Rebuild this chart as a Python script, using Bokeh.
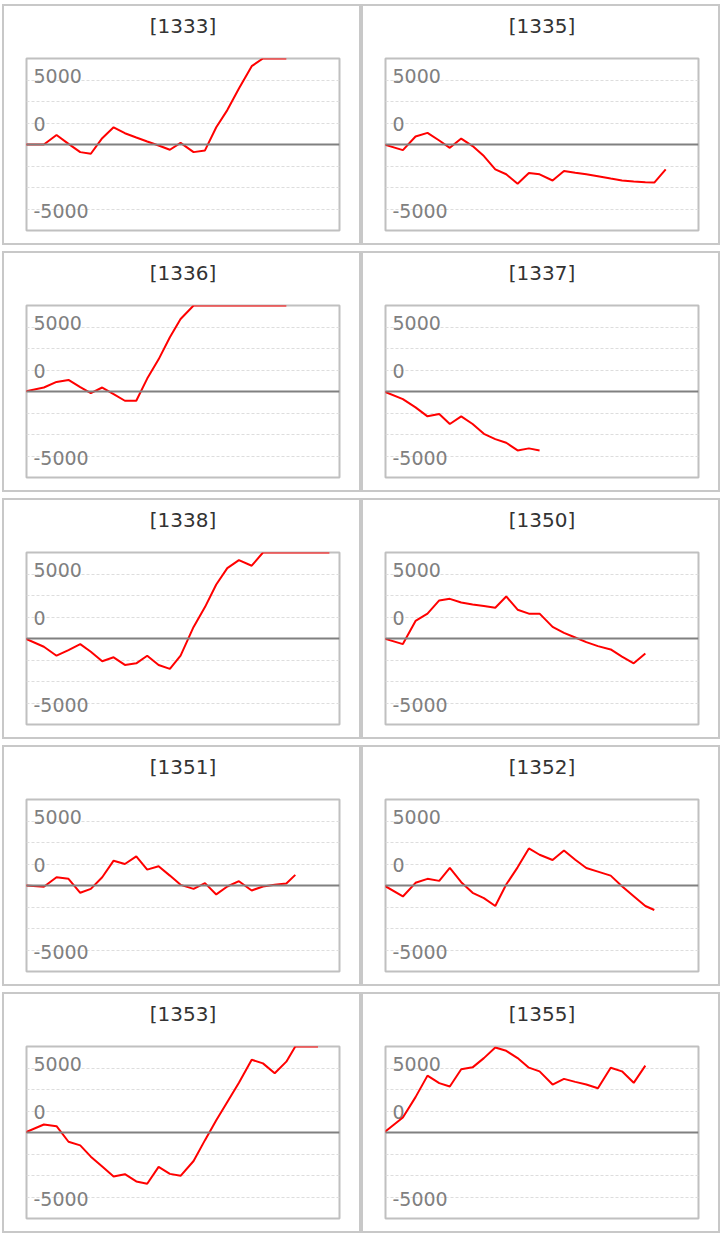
from bokeh.plotting import figure
from bokeh.layouts import column, row
from bokeh.models import Range1d, FixedTicker, Span, Title
from bokeh.core.properties import value
from bokeh.embed import file_html
from bokeh.resources import INLINE

# shared time positions (step units)
XS = [-0.12, 1.51, 2.61, 3.65, 4.67, 5.59, 6.58, 7.57, 8.55, 9.54, 10.49, 11.48,
      12.46, 13.39, 14.52, 15.51, 16.49, 17.45, 18.46, 19.57, 20.55, 21.57, 22.58,
      23.36, 24.35, 25.33, 26.32]

codes = ["1333", "1335", "1336", "1337", "1338", "1350", "1351", "1352", "1353", "1355"]

s1333 = [0, 0, 890, 60, -710, -860, 590, 1600, 1050, 650, 280, -90, -490, 150, -710,
         -550, 1600, 3200, 5200, 7290, 8000, 8000, 8000]
s1335 = [0, -520, 740, 1080, 370, -310, 550, -150, -1080, -2310, -2770, -3660, -2650,
         -2770, -3350, -2460, -2620, -2770, -2950, -3170, -3350, -3450, -3510, -3540, -2310]
s1336 = [0, 370, 890, 1080, 400, -150, 370, -250, -860, -860, 1200, 2990, 5050, 6740,
         8000, 8000, 8000, 8000, 8000, 8000, 8000, 8000, 8000]
s1337 = [0, -710, -1480, -2310, -2090, -3020, -2310, -3020, -3940, -4430, -4770,
         -5480, -5290, -5480]
s1338 = [0, -770, -1600, -1080, -520, -1230, -2120, -1750, -2460, -2310, -1600, -2460,
         -2830, -1600, 1080, 2920, 5020, 6550, 7290, 6770, 8000, 8000, 8000, 8000,
         8000, 8000, 8000]
s1350 = [0, -520, 1630, 2310, 3540, 3690, 3350, 3170, 3020, 2860, 3910, 2680, 2310,
         2310, 1080, 520, 90, -340, -710, -1020, -1690, -2310, -1390]
s1351 = [0, -120, 770, 620, -680, -310, 770, 2310, 2000, 2710, 1480, 1790, 920, 60,
         -310, 220, -830, -90, 400, -460, -90, 60, 190, 990]
s1352 = [0, -1020, 250, 620, 430, 1630, 310, -680, -1170, -1910, 90, 1690, 3450, 2860,
         2370, 3260, 2400, 1630, 1290, 920, -60, -990, -1910, -2280]
s1353 = [0, 740, 590, -860, -1200, -2250, -3170, -4090, -3880, -4550, -4770, -3200,
         -3850, -4030, -2650, -710, 1140, 2830, 4620, 6770, 6430, 5510, 6590, 8000,
         8000, 8000]
s1355 = [0, 1390, 3290, 5290, 4590, 4280, 5880, 6060, 6920, 7910, 7600, 6920, 6030,
         5690, 4460, 4990, 4710, 4460, 4120, 6030, 5690, 4620, 6220]

series = [s1333, s1335, s1336, s1337, s1338, s1350, s1351, s1352, s1353, s1355]

ytick_labels = ["5000", "0", "-5000"]
ytick_at = [6330, 1880, -6150]
grid_ticks = [-6000, -4000, -2000, 2000, 4000, 6000]

W, H = 359, 241


def panel(code, ys):
    p = figure(width=W, height=H, output_backend="svg", toolbar_location=None,
               x_range=Range1d(0, 27.2), y_range=Range1d(-8000, 8000),
               min_border_left=22, min_border_right=24, min_border_top=51,
               min_border_bottom=17, title=None,
               styles={"border": "2px solid #c8c8c8"})
    p.xaxis.visible = False
    p.yaxis.visible = False
    p.xgrid.visible = False
    p.ygrid.ticker = FixedTicker(ticks=grid_ticks)
    p.ygrid.grid_line_color = "#dddddd"
    p.ygrid.grid_line_dash = "3 2"
    p.ygrid.grid_line_width = 1
    p.outline_line_color = "#c0c0c0"
    p.outline_line_width = 2
    p.background_fill_color = "white"
    p.border_fill_color = "white"

    # spacer between frame and title, then the title itself
    p.add_layout(Title(text=" ", text_font_size="1px", standoff=13), "above")
    p.add_layout(Title(text="[" + code + "]", align="center",
                       text_font="DejaVu Sans", text_font_size="20px",
                       text_font_style="normal", text_color="#333333",
                       standoff=10), "above")

    p.add_layout(Span(location=0, dimension="width", line_color="#808080",
                      line_width=2))
    p.text(x=[0] * len(ytick_labels), y=ytick_at, text=ytick_labels,
           x_offset=7,
           text_font=value("DejaVu Sans"), text_font_size="19px",
           text_color="#808080", text_baseline="middle", text_align="left")
    p.line(XS[:len(ys)], ys, line_color="#ff0000", line_width=2)
    return p


figs = [panel(c, s) for c, s in zip(codes, series)]
rows = [row(figs[i], figs[i + 1], spacing=0) for i in range(0, len(figs), 2)]
layout = column(*rows, spacing=6, styles={"margin-left": "2px", "margin-top": "4px"})

open("out.html", "w").write(file_html(layout, INLINE))
